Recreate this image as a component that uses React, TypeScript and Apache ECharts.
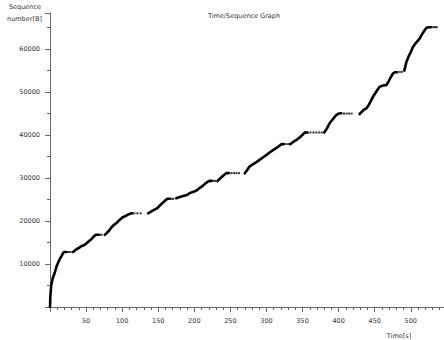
import React, { useEffect, useRef } from "react";
import * as echarts from "echarts";

// Continuous runs of the sequence trace: [time s, sequence number B]
const run1 = [[0, 0], [0.5, 2500], [1.8, 5200], [4, 6800], [6.4, 7900], [9, 9400], [11, 10240], [14, 11300], [15.7, 11780], [18, 12500], [19.4, 12790], [23, 12800]];
const run2 = [[32, 12800], [34, 13100], [37, 13500], [40, 13720], [43, 14100], [46, 14300], [49.4, 14650], [53, 15200], [57, 15700], [60, 16300], [63.3, 16800], [67, 16800]];
const run3 = [[76, 16800], [78, 17100], [82, 17800], [85, 18500], [88.8, 19130], [92, 19500], [96, 20200], [100.3, 20830], [104, 21100], [108, 21500], [111.9, 21760], [114, 21800]];
const run4 = [[136, 21800], [140, 22200], [144, 22600], [148.9, 23010], [152, 23600], [156, 24200], [159, 24700], [162.8, 25170], [166, 25170]];
const run5 = [[175, 25300], [178, 25500], [182, 25700], [186, 25900], [190.5, 26100], [193.3, 26490], [197, 26700], [202.6, 27030], [206, 27500], [211.7, 28190], [215, 28700], [219, 29200], [221, 29350], [224, 29350]];
const run6 = [[232, 29300], [235, 29800], [239, 30400], [244.2, 31140], [248, 31140]];
const run7 = [[270, 31100], [273, 31800], [276.5, 32670], [281, 33200], [286, 33700], [290.4, 34230], [295, 34800], [300, 35400], [304.3, 35930], [309, 36500], [314, 37000], [318, 37500], [320.5, 37870], [324, 37900]];
const run8 = [[333, 37900], [337, 38400], [341, 38800], [345, 39300], [349, 39900], [352.9, 40570], [357, 40600]];
const run9 = [[380, 40600], [384, 41600], [387.5, 42750], [391, 43500], [394, 44100], [396.8, 44680], [400, 45000], [403.8, 45070]];
const run10 = [[429, 44900], [432, 45400], [435, 45900], [438.5, 46230], [441, 46800], [444, 47700], [447.6, 48930], [451, 49800], [454, 50600], [456.9, 51250], [461, 51500], [466.2, 51640], [469, 52400], [472, 53400], [475.4, 54360], [478, 54600], [481, 54600]];
const run11 = [[491, 55000], [494, 57050], [497, 58300], [500, 59300], [503.1, 60530], [506, 61200], [509, 61800], [512.4, 62490], [515, 63300], [518, 64100], [521.7, 64950], [525, 65100], [528, 65100]];

// Sparse points on the plateaus
const plateauDots = [
  [26, 12800], [28.5, 12800],
  [69, 16800], [71.5, 16800],
  [117, 21800], [121, 21800], [125.5, 21800],
  [168.5, 25170], [171, 25170],
  [226.5, 29350], [229, 29350],
  [251.5, 31140], [255, 31140], [258.5, 31140], [262, 31140],
  [327.5, 37900], [330.5, 37900],
  [361, 40600], [365, 40600], [369, 40600], [373, 40600], [376.5, 40600],
  [407.5, 45000], [411, 45000], [414.5, 45000], [418, 45000],
  [484.5, 54700], [487.5, 54700],
  [531, 65100], [533.5, 65100], [536, 65100],
];

// Tick spacing: labelled ticks every major step, minor ticks in between
const X_MAJOR = 50;
const X_MINOR_SPLIT = 5;
const Y_MAJOR = 10000;
const Y_MINOR_SPLIT = 2;

const X_MAX = 546;
const Y_MAX = 68400;
const FONT = "DejaVu Sans";
const AXIS = "#666666";
const TXT = "#333333";

export default function App() {
  const ref = useRef<HTMLDivElement>(null);
  useEffect(() => {
    if (!ref.current) return;
    const chart = echarts.init(ref.current, undefined, { renderer: "svg" });
    const runs = [run1, run2, run3, run4, run5, run6, run7, run8, run9, run10, run11];
    const lineData: any[] = [];
    runs.forEach((r, i) => {
      if (i > 0) lineData.push([null, null]);
      r.forEach((p) => lineData.push(p));
    });
    const fmt = (v: number) => String(v);
    chart.setOption({
      animation: false,
      grid: { left: 50, top: 13, right: 0, bottom: 33, containLabel: false, outerBoundsMode: "none" },
      xAxis: {
        type: "value", min: 0, max: X_MAX, interval: X_MAJOR, position: "bottom",
        splitLine: { show: false },
        axisLine: { show: true, onZero: false, lineStyle: { color: AXIS, width: 1 } },
        axisTick: { show: true, length: 5, lineStyle: { color: AXIS, width: 1 } },
        minorTick: { show: true, splitNumber: X_MINOR_SPLIT, length: 3, lineStyle: { color: AXIS, width: 1 } },
        axisLabel: { showMinLabel: false, showMaxLabel: false, margin: 10, fontSize: 6.5, fontFamily: FONT, color: TXT, formatter: fmt },
      },
      yAxis: {
        type: "value", min: 0, max: Y_MAX, interval: Y_MAJOR, position: "left",
        splitLine: { show: false },
        axisLine: { show: true, onZero: false, lineStyle: { color: AXIS, width: 1 } },
        axisTick: { show: true, length: 5, lineStyle: { color: AXIS, width: 1 } },
        minorTick: { show: true, splitNumber: Y_MINOR_SPLIT, length: 3, lineStyle: { color: AXIS, width: 1 } },
        axisLabel: { showMinLabel: false, showMaxLabel: false, margin: 10, fontSize: 6.5, fontFamily: FONT, color: TXT, formatter: fmt },
      },
      graphic: [
        { type: "text", x: 25, y: 7, style: { text: "Sequence", fontSize: 6.5, fontFamily: FONT, fill: TXT, align: "center", verticalAlign: "middle" } },
        { type: "text", x: 24.5, y: 18.5, style: { text: "number[B]", fontSize: 6.5, fontFamily: FONT, fill: TXT, align: "center", verticalAlign: "middle" } },
        { type: "text", x: 244, y: 16, style: { text: "Time/Sequence Graph", fontSize: 6.5, fontFamily: FONT, fill: TXT, align: "center", verticalAlign: "middle" } },
        { type: "text", x: 399, y: 336, style: { text: "Time[s]", fontSize: 6.5, fontFamily: FONT, fill: TXT, align: "center", verticalAlign: "middle" } },
      ],
      series: [
        {
          type: "line",
          data: lineData,
          connectNulls: false,
          showSymbol: false,
          symbol: "none",
          lineStyle: { color: "#000", width: 2.6, cap: "round", join: "round" },
        },
        {
          type: "scatter",
          data: plateauDots,
          symbol: "rect",
          symbolSize: 2,
          itemStyle: { color: "#000" },
        },
      ],
    });
    return () => chart.dispose();
  }, []);
  return <div ref={ref} style={{ position: "absolute", left: 0, top: 0, width: 444, height: 340 }} />;
}
